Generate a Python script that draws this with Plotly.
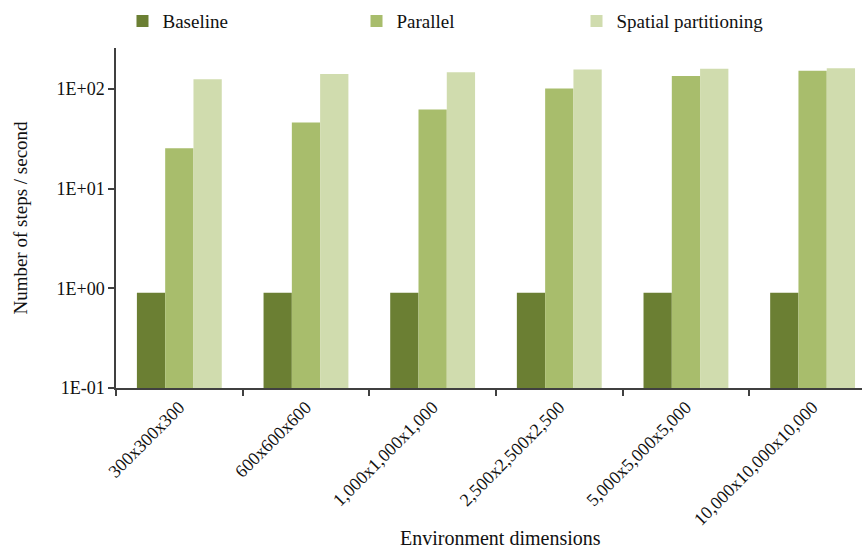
import plotly.graph_objects as go

# Grid sizes on the x axis
dimensions = [
    "300x300x300",
    "600x600x600",
    "1,000x1,000x1,000",
    "2,500x2,500x2,500",
    "5,000x5,000x5,000",
    "10,000x10,000x10,000",
]

# Simulation throughput (steps per second) for each approach
baseline = [0.9, 0.9, 0.9, 0.9, 0.9, 0.9]
parallel = [25.4, 46, 62, 101, 135, 152]
spatial = [125, 141, 147, 156, 159, 161]

# Log-axis tick labels
y_tickvals = [0.1, 1, 10, 100]
y_ticktext = ["1E-01", "1E+00", "1E+01", "1E+02"]

series = [
    ("Baseline", baseline, "#6b7f33", "legend"),
    ("Parallel", parallel, "#a8bd6c", "legend2"),
    ("Spatial partitioning", spatial, "#d0dcae", "legend3"),
]

FONT = "Liberation Serif, Times New Roman, serif"

fig = go.Figure()
for name, vals, color, leg in series:
    fig.add_trace(go.Bar(
        name=name, x=dimensions, y=vals,
        marker=dict(color=color, line=dict(width=0)),
        legend=leg, showlegend=True,
    ))

legend_common = dict(
    orientation="h", yanchor="middle", xanchor="left",
    font=dict(family=FONT, size=19, color="#111111"),
    bgcolor="rgba(0,0,0,0)", borderwidth=0,
    itemwidth=30,
)

fig.update_layout(
    width=862, height=549,
    margin=dict(l=116, r=0, t=48, b=161),
    paper_bgcolor="white", plot_bgcolor="white",
    font=dict(family=FONT, size=18, color="#111111"),
    barmode="group", bargap=0.33, bargroupgap=0,
    showlegend=True,
    legend=dict(x=0.0087, y=1.079, **legend_common),
    legend2=dict(x=0.3224, y=1.079, **legend_common),
    legend3=dict(x=0.6173, y=1.079, **legend_common),
    xaxis=dict(
        type="category", range=[-0.5, 5.39],
        showline=True, linecolor="#404040", linewidth=1.5,
        ticks="outside", tickson="boundaries", ticklen=6, tickwidth=1.5,
        tickcolor="#404040", tickangle=-45,
        tickfont=dict(family=FONT, size=18, color="#111111"),
        showgrid=False,
    ),
    yaxis=dict(
        type="log", range=[-1, 2.41],
        tickvals=y_tickvals, ticktext=y_ticktext,
        showline=True, linecolor="#404040", linewidth=1.5,
        ticks="outside", ticklen=6, tickwidth=1.5, tickcolor="#404040",
        tickfont=dict(family=FONT, size=18, color="#111111"),
        title=dict(text="Number of steps / second", standoff=24,
                   font=dict(family=FONT, size=19, color="#111111")),
        showgrid=False, zeroline=False,
    ),
    annotations=[dict(
        text="Environment dimensions", xref="paper", yref="paper",
        x=0.515, y=-0.441, xanchor="center", yanchor="middle",
        showarrow=False, font=dict(family=FONT, size=20, color="#111111"),
    )],
)

fig.write_html("out.html")
